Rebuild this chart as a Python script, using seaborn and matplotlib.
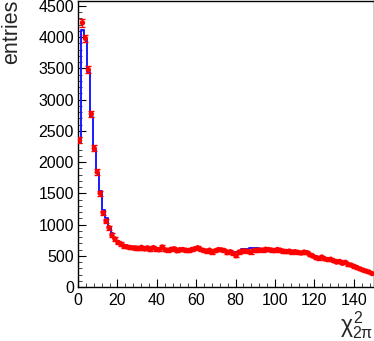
import numpy as np
import pandas as pd
import matplotlib
matplotlib.use("Agg")
import matplotlib.pyplot as plt
import seaborn as sns
from matplotlib.ticker import MultipleLocator

# ---- data (bin width 1.5, range 0-150) ----
bin_width = 1.5
x_min, x_max = 0, 150
bin_centers = np.arange(x_min + bin_width / 2, x_max, bin_width)

data_counts = [
    2350, 4230, 3980, 3480, 2770, 2220, 1840, 1500, 1190, 1055,
    950, 830, 770, 715, 690, 655, 645, 632, 628, 625,
    618, 635, 610, 625, 600, 630, 605, 598, 640, 595,
    588, 605, 612, 580, 598, 600, 590, 585, 602, 612,
    628, 600, 585, 575, 590, 560, 580, 600, 595, 585,
    550, 565, 540, 500, 560, 575, 578, 570, 560, 590,
    585, 595, 590, 605, 600, 592, 585, 600, 590, 575,
    570, 575, 560, 565, 555, 545, 560, 550, 515, 495,
    470, 460, 480, 450, 440, 445, 420, 400, 410, 380,
    395, 360, 350, 330, 310, 290, 270, 255, 240, 215,
]

mc_counts = [
    2330, 4117, 3970, 3436, 2729, 2200, 1820, 1530, 1230, 1100,
    960, 870, 790, 740, 700, 680, 660, 645, 640, 632,
    628, 622, 620, 616, 618, 612, 608, 610, 606, 602,
    600, 604, 598, 596, 600, 594, 592, 596, 598, 602,
    605, 598, 590, 585, 588, 580, 582, 590, 588, 585,
    575, 570, 568, 566, 572, 610, 612, 608, 628, 632,
    630, 600, 598, 602, 600, 596, 595, 592, 590, 586,
    582, 578, 575, 570, 565, 558, 552, 545, 530, 515,
    500, 485, 470, 458, 445, 430, 418, 405, 392, 378,
    362, 348, 333, 318, 300, 283, 268, 250, 232, 212,
]

x_ticks = [0, 20, 40, 60, 80, 100, 120, 140]
y_ticks = [0, 500, 1000, 1500, 2000, 2500, 3000, 3500, 4000, 4500]

df = pd.DataFrame({"x": bin_centers, "data": data_counts, "mc": mc_counts})

# ---- figure ----
sns.set_style("ticks")
plt.rcParams["font.family"] = ["Liberation Sans", "DejaVu Sans"]
plt.rcParams["mathtext.fontset"] = "custom"
plt.rcParams["mathtext.rm"] = "Liberation Sans"
plt.rcParams["mathtext.it"] = "Liberation Sans"

fig = plt.figure(figsize=(3.74, 3.41), dpi=100)
ax = fig.add_axes([78 / 374, 1 - 287 / 341, (373.5 - 78) / 374, (287 - 1) / 341])

sns.histplot(data=df, x="x", weights="mc", binwidth=bin_width,
             binrange=(x_min, x_max), element="step", fill=False,
             color="#1a1aff", linewidth=1.4, ax=ax)

ax.errorbar(df["x"], df["data"], yerr=np.sqrt(df["data"]),
            fmt="none", ecolor="#ff0000", elinewidth=1.0,
            capsize=2.2, capthick=1.0, zorder=3)
sns.scatterplot(data=df, x="x", y="data", color="#ff0000", s=15,
                edgecolor="none", marker="o", ax=ax, zorder=4)

ax.set_xlim(x_min, x_max)
ax.set_ylim(0, 4580)
ax.set_xticks(x_ticks)
ax.set_yticks(y_ticks)
ax.xaxis.set_minor_locator(MultipleLocator(4))
ax.yaxis.set_minor_locator(MultipleLocator(100))
ax.tick_params(which="major", direction="in", length=6, width=0.8,
               labelsize=11.5, pad=3, colors="black")
ax.tick_params(which="minor", direction="in", length=3, width=0.6)
ax.tick_params(axis="x", pad=4)

for s in ax.spines.values():
    s.set_visible(True)
    s.set_color("black")
    s.set_linewidth(1.0)

ax.set_xlabel("")
ax.set_ylabel("")
fig.text(0.003, 1.0, "entries", rotation=90, ha="left", va="top",
         fontsize=15.5)
fig.text(0.999, 0.0, r"$\chi^{2}_{2\pi}$", ha="right", va="bottom",
         fontsize=16.5)

fig.savefig("out.png", dpi=100)
